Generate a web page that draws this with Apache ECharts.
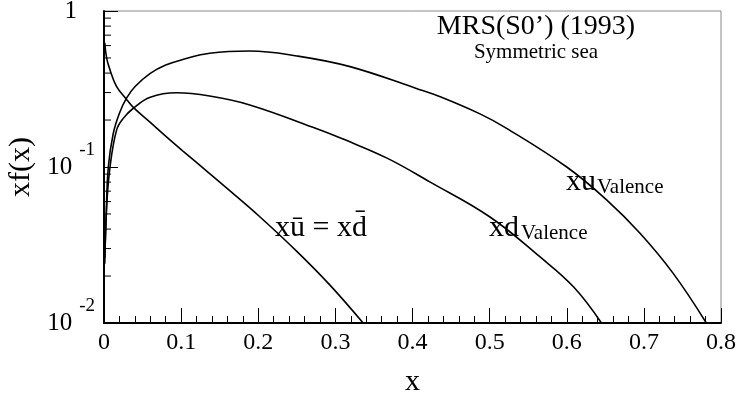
<!DOCTYPE html>
<html><head><meta charset="utf-8">
<script src="https://cdn.jsdelivr.net/npm/echarts@6/dist/echarts.min.js"></script>
<style>html,body{margin:0;padding:0;background:#fff}#c{width:739px;height:396px}</style>
</head><body><div id="c"></div>
<script>
// x-axis tick labels
const xTicks = ['0','0.1','0.2','0.3','0.4','0.5','0.6','0.7','0.8'];
// sea: x*ubar = x*dbar
const seaX = [0.001, 0.0035, 0.0078, 0.0164, 0.0285, 0.038, 0.06, 0.081, 0.102, 0.137, 0.163, 0.202, 0.25, 0.293, 0.336];
const seaY = [0.626, 0.497, 0.419, 0.327, 0.274, 0.241, 0.193, 0.156, 0.127, 0.0908, 0.0706, 0.048, 0.0288, 0.0175, 0.01];
// x u_valence
const uvX = [0.001, 0.0026, 0.0056, 0.012, 0.02, 0.029, 0.04, 0.06, 0.08, 0.103, 0.137, 0.189, 0.25, 0.319, 0.405, 0.436, 0.4875, 0.522, 0.6, 0.652, 0.695, 0.738, 0.781];
const uvY = [0.026, 0.046, 0.10, 0.164, 0.221, 0.275, 0.327, 0.398, 0.45, 0.49, 0.536, 0.554, 0.515, 0.44, 0.319, 0.282, 0.219, 0.177, 0.10, 0.0614, 0.0376, 0.0208, 0.01];
// x d_valence
const dvX = [0.001, 0.0035, 0.0078, 0.0164, 0.025, 0.038, 0.06, 0.094, 0.137, 0.189, 0.276, 0.31, 0.367, 0.423, 0.5, 0.565, 0.609, 0.645];
const dvY = [0.024, 0.056, 0.10, 0.173, 0.205, 0.238, 0.28, 0.299, 0.285, 0.25, 0.176, 0.151, 0.114, 0.080, 0.048, 0.0266, 0.017, 0.01];
// log-axis minor tick values
const yMinor = [];
[0.01, 0.1].forEach(d => { for (let k = 2; k <= 9; k++) yMinor.push(+(k * d).toPrecision(3)); });

const zip = (a, b) => a.map((v, i) => [v, b[i]]);
const FF = 'Liberation Serif';
const chart = echarts.init(document.getElementById('c'), null, {renderer: 'canvas'});
const lineSeries = (data) => ({
  type: 'line', data, showSymbol: false, smooth: 0.4,
  lineStyle: {color: '#000', width: 1.6}, z: 3, silent: true, animation: false
});
chart.setOption({
  animation: false,
  backgroundColor: '#fff',
  grid: {left: 104, right: 18, top: 11, bottom: 73, show: true, borderColor: '#888', borderWidth: 1,
    containLabel: false, outerBoundsMode: 'none'},
  xAxis: {
    type: 'value', min: 0, max: 0.8, interval: 0.1,
    axisLine: {lineStyle: {color: '#000', width: 2}},
    axisTick: {inside: true, length: 15, lineStyle: {color: '#000', width: 1}},
    minorTick: {show: true, splitNumber: 5, length: 7, lineStyle: {color: '#000', width: 1}},
    splitLine: {show: false},
    axisLabel: {fontFamily: FF, fontSize: 24, color: '#000', margin: 8,
      formatter: (v) => xTicks[Math.round(v * 10)]},
    name: 'x', nameLocation: 'middle', nameGap: 44,
    nameTextStyle: {fontFamily: FF, fontSize: 30, color: '#000'}
  },
  yAxis: {
    type: 'log', logBase: 10, min: 0.01, max: 1,
    axisLine: {lineStyle: {color: '#000', width: 2}},
    axisTick: {inside: true, length: 14, lineStyle: {color: '#000', width: 1}},
    minorTick: {show: false},
    splitLine: {show: false},
    axisLabel: {fontFamily: FF, color: '#000', margin: 9,
      formatter: (v) => {
        if (Math.abs(v - 1) < 1e-9) return '{one|1}';
        const e = Math.round(Math.log10(v));
        return '{b|10}{s|' + e + '}';
      },
      rich: {
        one: {fontFamily: FF, fontSize: 25, color: '#000', padding: [0, 18, 0, 0]},
        b: {fontFamily: FF, fontSize: 25, color: '#000'},
        s: {fontFamily: FF, fontSize: 19, color: '#000', padding: [0, 0, 34, 7]}
      }
    },
    name: 'xf(x)', nameLocation: 'middle', nameGap: 66,
    nameTextStyle: {fontFamily: FF, fontSize: 30, color: '#000'}
  },
  series: [
    lineSeries(zip(seaX, seaY)),
    lineSeries(zip(uvX, uvY)),
    lineSeries(zip(dvX, dvY)),
    {
      type: 'custom', silent: true, clip: false, z: 4,
      data: yMinor.map(v => [0, v]),
      renderItem: (params, api) => {
        const p = api.coord([0, api.value(1)]);
        return {type: 'line', shape: {x1: p[0], y1: p[1], x2: p[0] + 7, y2: p[1]},
          style: {stroke: '#000', lineWidth: 1}};
      }
    }
  ],
  graphic: [
    {type: 'text', x: 536, y: 27, silent: true, style: {text: 'MRS(S0\u2019) (1993)', fontFamily: FF, fontSize: 28, fill: '#000', align: 'center', verticalAlign: 'middle'}},
    {type: 'text', x: 536, y: 52, silent: true, style: {text: 'Symmetric sea', fontFamily: FF, fontSize: 21, fill: '#000', align: 'center', verticalAlign: 'middle'}},
    {type: 'text', x: 275, y: 213, silent: true, style: {text: 'x\u016B = xd\u0304', fontFamily: FF, fontSize: 30, fill: '#000', align: 'left', verticalAlign: 'alphabetic'}},
    {type: 'text', x: 489, y: 213, silent: true, style: {text: 'xd', fontFamily: FF, fontSize: 30, fill: '#000', align: 'left', verticalAlign: 'alphabetic'}},
    {type: 'text', x: 521, y: 223, silent: true, style: {text: 'Valence', fontFamily: FF, fontSize: 21, fill: '#000', align: 'left', verticalAlign: 'alphabetic'}},
    {type: 'text', x: 566, y: 167, silent: true, style: {text: 'xu', fontFamily: FF, fontSize: 30, fill: '#000', align: 'left', verticalAlign: 'alphabetic'}},
    {type: 'text', x: 597, y: 177, silent: true, style: {text: 'Valence', fontFamily: FF, fontSize: 21, fill: '#000', align: 'left', verticalAlign: 'alphabetic'}}
  ]
});
</script></body></html>
